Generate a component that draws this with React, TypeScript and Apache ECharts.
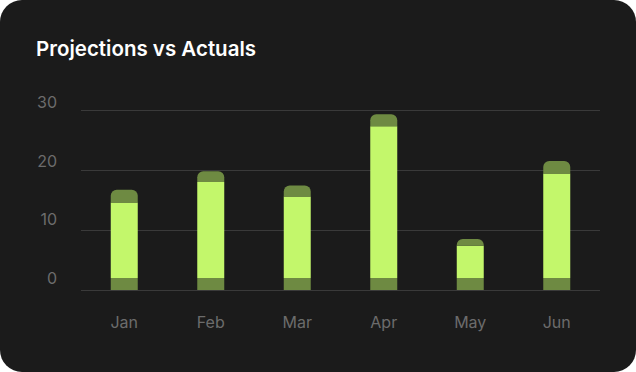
import React, { useEffect, useRef } from "react";
import * as echarts from "echarts";

const months = ["Jan", "Feb", "Mar", "Apr", "May", "Jun"];
const baseline = [2, 2, 2, 2, 2, 2];
const actuals = [14.6, 18.0, 15.6, 27.3, 7.4, 19.4];
const projections = [16.7, 19.8, 17.4, 29.3, 8.5, 21.5];
const yMin = 0;
const yMax = 30;
const yStep = 10;

const BRIGHT = "#c3f76b";
const DARK = "#6e8a42";
const LABEL = "#6c6c6c";

export default function App() {
  const ref = useRef<HTMLDivElement>(null);
  useEffect(() => {
    document.body.style.margin = "0";
    document.body.style.background = "#ffffff";
    const chart = echarts.init(ref.current!, undefined, { renderer: "svg" });
    const actualPart = actuals.map((a, i) => +(a - baseline[i]).toFixed(2));
    const projPart = projections.map((p, i) => +(p - actuals[i]).toFixed(2));
    chart.setOption({
      animation: false,
      backgroundColor: "transparent",
      title: {
        text: "Projections vs Actuals",
        left: 36,
        top: 38,
        padding: 0,
        textStyle: {
          color: "#ffffff",
          fontFamily: "Inter",
          fontSize: 20.5,
          fontWeight: 600,
        },
      },
      grid: [
        { left: 81, right: 36, top: 110, bottom: 82 },
        { left: 81, right: 36, top: 102, bottom: 94.5 },
      ],
      xAxis: [
        {
          type: "category",
          data: months,
          gridIndex: 0,
          axisLine: { show: false },
          axisTick: { show: false },
          axisLabel: {
            color: LABEL,
            fontFamily: "Inter",
            fontSize: 16,
            margin: 24,
          },
        },
        { type: "category", data: months, gridIndex: 1, show: false },
      ],
      yAxis: [
        {
          type: "value",
          gridIndex: 0,
          min: yMin,
          max: yMax,
          interval: yStep,
          axisLine: { show: false },
          axisTick: { show: false },
          axisLabel: { show: false },
          splitLine: { lineStyle: { color: "#3a3a3a", width: 1 } },
        },
        {
          type: "value",
          gridIndex: 1,
          min: yMin,
          max: yMax,
          interval: yStep,
          axisLine: { show: false },
          axisTick: { show: false },
          splitLine: { show: false },
          axisLabel: {
            color: LABEL,
            fontFamily: "Inter",
            fontSize: 16,
            margin: 24,
          },
        },
      ],
      series: [
        {
          type: "bar",
          stack: "s",
          data: baseline,
          barWidth: 27,
          itemStyle: { color: DARK },
        },
        {
          type: "bar",
          stack: "s",
          data: actualPart,
          barWidth: 27,
          itemStyle: { color: BRIGHT },
        },
        {
          type: "bar",
          stack: "s",
          data: projPart,
          barWidth: 27,
          itemStyle: { color: DARK, borderRadius: [6, 6, 0, 0] },
        },
      ],
    });
    return () => chart.dispose();
  }, []);
  return (
    <div
      style={{
        position: "fixed",
        left: 0,
        top: 0,
        width: 636,
        height: 372,
        background: "#1b1b1b",
        borderRadius: 22,
        overflow: "hidden",
      }}
    >
      <div ref={ref} style={{ width: 636, height: 372 }} />
    </div>
  );
}
